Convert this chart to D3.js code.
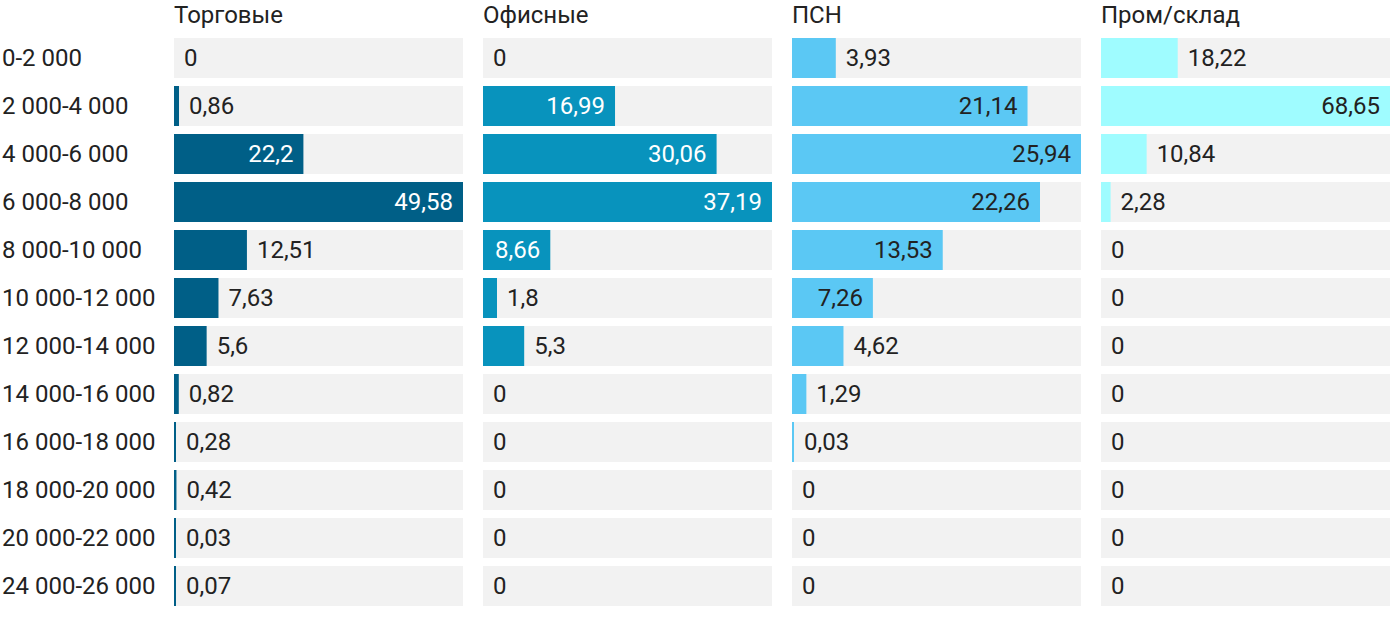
<!DOCTYPE html>
<html>
<head>
<meta charset="utf-8">
<script src="https://cdn.jsdelivr.net/npm/d3@7"></script>
<style>
  body { margin: 0; background: #fff; }
  text { font-family: Roboto, "Noto Sans", sans-serif; }
</style>
</head>
<body>
<script>
var ranges = ["0-2 000", "2 000-4 000", "4 000-6 000", "6 000-8 000", "8 000-10 000",
    "10 000-12 000", "12 000-14 000", "14 000-16 000", "16 000-18 000",
    "18 000-20 000", "20 000-22 000", "24 000-26 000"];

var panels = ["Торговые", "Офисные", "ПСН", "Пром/склад"];

var trade = [0, 0.86, 22.2, 49.58, 12.51, 7.63, 5.6, 0.82, 0.28, 0.42, 0.03, 0.07];
var office = [0, 16.99, 30.06, 37.19, 8.66, 1.8, 5.3, 0, 0, 0, 0, 0];
var psn = [3.93, 21.14, 25.94, 22.26, 13.53, 7.26, 4.62, 1.29, 0.03, 0, 0, 0];
var industrial = [18.22, 68.65, 10.84, 2.28, 0, 0, 0, 0, 0, 0, 0, 0];

var series = [trade, office, psn, industrial];
var colors = ["#005f87", "#0893bd", "#5bc8f4", "#9ffcff"];
var insideText = ["#fff", "#fff", "#222", "#222"];

var width = 1400,
    height = 622;

var svg = d3.select('body')
    .append('svg')
    .attr('width', width)
    .attr('height', height);

var y = d3.scaleBand()
    .domain(ranges)
    .range([38, 606])
    .paddingInner(1/6)
    .paddingOuter(0);

var px = d3.scaleBand()
    .domain(panels)
    .range([174, 1390])
    .paddingInner(20/309)
    .paddingOuter(0);

var fmt = function(v) { return String(v).replace('.', ','); };

// row labels
svg.selectAll('text.cat')
    .data(ranges).enter()
    .append('text')
    .attr('class', 'cat')
    .attr('x', 2)
    .attr('y', (d) => y(d) + y.bandwidth()/2)
    .attr('dy', '0.35em')
    .attr('font-size', 24)
    .attr('fill', '#222')
    .text((d) => d);

panels.forEach(function(name, i) {
    var vals = series[i];
    var x0 = px(name);
    var x = d3.scaleLinear()
        .domain([0, d3.max(vals)])
        .range([0, px.bandwidth()]);

    var g = svg.append('g').attr('transform', 'translate(' + x0 + ',0)');

    g.append('text')
        .attr('x', 0)
        .attr('y', 15)
        .attr('dy', '0.35em')
        .attr('font-size', 24)
        .attr('fill', '#222')
        .text(name);

    var rows = g.selectAll('g.row')
        .data(vals.map((v, j) => ({v: v, cat: ranges[j]})))
        .enter()
        .append('g')
        .attr('class', 'row')
        .attr('transform', (d) => 'translate(0,' + y(d.cat) + ')');

    rows.append('rect')
        .attr('width', px.bandwidth())
        .attr('height', y.bandwidth())
        .attr('fill', '#f2f2f2');

    rows.append('rect')
        .attr('width', (d) => d.v > 0 ? Math.max(2, x(d.v)) : 0)
        .attr('height', y.bandwidth())
        .attr('fill', colors[i]);

    // label goes inside the bar only if it fits with some room
    rows.append('text')
        .attr('y', y.bandwidth()/2)
        .attr('dy', '0.35em')
        .attr('font-size', 24)
        .text((d) => fmt(d.v))
        .each(function(d) {
            var t = d3.select(this);
            var w = this.getComputedTextLength();
            var bw = d.v > 0 ? Math.max(2, x(d.v)) : 0;
            if (bw > w + 20) {
                t.attr('x', bw - 10).attr('text-anchor', 'end').attr('fill', insideText[i]);
            } else {
                t.attr('x', bw + 10).attr('text-anchor', 'start').attr('fill', '#222');
            }
        });
});
</script>
</body>
</html>
